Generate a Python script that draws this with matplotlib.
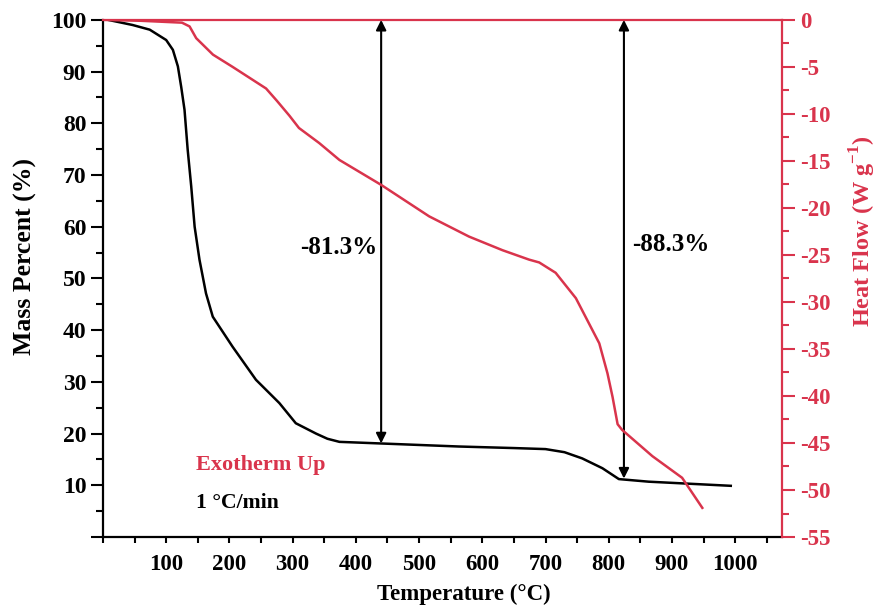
import matplotlib
matplotlib.use("Agg")
import matplotlib.pyplot as plt
from matplotlib.ticker import MultipleLocator

# === Data ===
temp_tga = [8, 47, 74, 100, 110.6, 118.5, 123.8, 129, 134, 139.6, 145, 152.7, 163,
            173.7, 205, 242, 279, 305, 337, 355, 374, 437, 563, 650, 700, 730, 758,
            790, 816, 863, 993]
mass = [100, 99.0, 98.1, 96.1, 94.2, 91, 87, 82.6, 74.9, 67.8, 60, 53.6, 47.1,
        42.6, 36.8, 30.4, 25.9, 22, 20, 19.0, 18.4, 18.1, 17.5, 17.2, 17.0, 16.4,
        15.2, 13.3, 11.2, 10.7, 9.9]

temp_dsc = [3, 60, 125, 137, 147.5, 174, 205, 258, 275, 295, 310, 342, 358,
            374, 440, 516, 579, 632, 674, 690, 716, 748, 785, 798, 806, 814, 821,
            869, 916, 948]
heat = [0, -0.1, -0.3, -0.7, -1.95, -3.7, -5, -7.3, -8.6, -10.2, -11.5,
        -13.1, -14.0, -14.9, -17.55, -20.9, -23.05, -24.5, -25.5, -25.8, -26.9,
        -29.6, -34.4, -37.6, -40.1, -43.0, -43.6, -46.4, -48.7, -51.9]

arrow_x = [440, 824]
arrow_bottom = [18.1, 11.3]
loss_labels = ['-81.3%', '-88.3%']

red = '#d9344c'

# === Style ===
plt.rcParams['font.family'] = 'Liberation Serif'
plt.rcParams['font.weight'] = 'bold'
plt.rcParams['axes.unicode_minus'] = False
plt.rcParams['mathtext.fontset'] = 'custom'
plt.rcParams['mathtext.rm'] = 'Liberation Serif:bold'
plt.rcParams['mathtext.bf'] = 'Liberation Serif:bold'

fig = plt.figure(figsize=(8.83, 6.07), dpi=100)
ax = fig.add_axes([0.1166, 0.1153, 0.769, 0.852])
ax2 = ax.twinx()

# === Curves ===
ax.plot(temp_tga, mass, color='black', lw=1.8, zorder=3)
ax2.plot(temp_dsc, heat, color=red, lw=1.8)

ax.set_xlim(0, 1074)
ax.set_ylim(0, 100)
ax2.set_ylim(-55, 0)

# === Arrows and text ===
for x, yb in zip(arrow_x, arrow_bottom):
    ax.annotate('', xy=(x, 100), xytext=(x, yb),
                arrowprops=dict(arrowstyle='<|-|>', color='black', lw=1.5,
                                mutation_scale=15, shrinkA=0, shrinkB=0))
ax.text(434, 55.9, loss_labels[0], ha='right', va='center', fontsize=18, fontweight='bold')
ax.text(837, 56.5, loss_labels[1], ha='left', va='center', fontsize=18, fontweight='bold')
ax.text(147, 13.9, 'Exotherm Up', color=red, ha='left', va='center', fontsize=16, fontweight='bold')
ax.text(147, 6.6, '1 °C/min', color='black', ha='left', va='center', fontsize=15.7, fontweight='bold')

# === Axes styling ===
ax.spines['top'].set_visible(False)
ax.spines['right'].set_visible(False)
for s in ['left', 'bottom']:
    ax.spines[s].set_linewidth(1.6)
ax2.spines['left'].set_visible(False)
ax2.spines['bottom'].set_visible(False)
for s in ['right', 'top']:
    ax2.spines[s].set_color(red)
    ax2.spines[s].set_linewidth(1.6)

ax.xaxis.set_minor_locator(MultipleLocator(50))
ax.yaxis.set_minor_locator(MultipleLocator(5))
ax2.yaxis.set_major_locator(MultipleLocator(5))
ax2.yaxis.set_minor_locator(MultipleLocator(2.5))

ax.set_xticks(range(100, 1001, 100))
ax.set_yticks(range(0, 101, 10))
ax.set_yticklabels([''] + [str(v) for v in range(10, 101, 10)])

ax.tick_params(axis='x', which='both', direction='out', length=4, width=1.5,
               labelsize=16.5, pad=8)
ax.tick_params(axis='y', which='major', direction='out', length=9, width=1.5,
               labelsize=17, pad=3)
ax.tick_params(axis='y', which='minor', direction='out', length=5, width=1.5)
ax2.tick_params(axis='y', which='major', direction='out', length=9, width=1.5,
                colors=red, labelsize=16.5, pad=4)
ax2.tick_params(axis='y', which='minor', direction='out', length=5, width=1.5,
                colors=red)

ax.set_xlabel('Temperature (°C)', fontsize=16.5, fontweight='bold')
ax.xaxis.set_label_coords(0.532, -0.091)
ax.set_ylabel('Mass Percent (%)', fontsize=18.5, fontweight='bold')
ax.yaxis.set_label_coords(-0.097, 0.543)
ax2.set_ylabel(r'Heat Flow (W g$^{-1}$)', fontsize=17.5, fontweight='bold', color=red)
ax2.yaxis.set_label_coords(1.097, 0.592)

plt.savefig('out.png', dpi=100)
